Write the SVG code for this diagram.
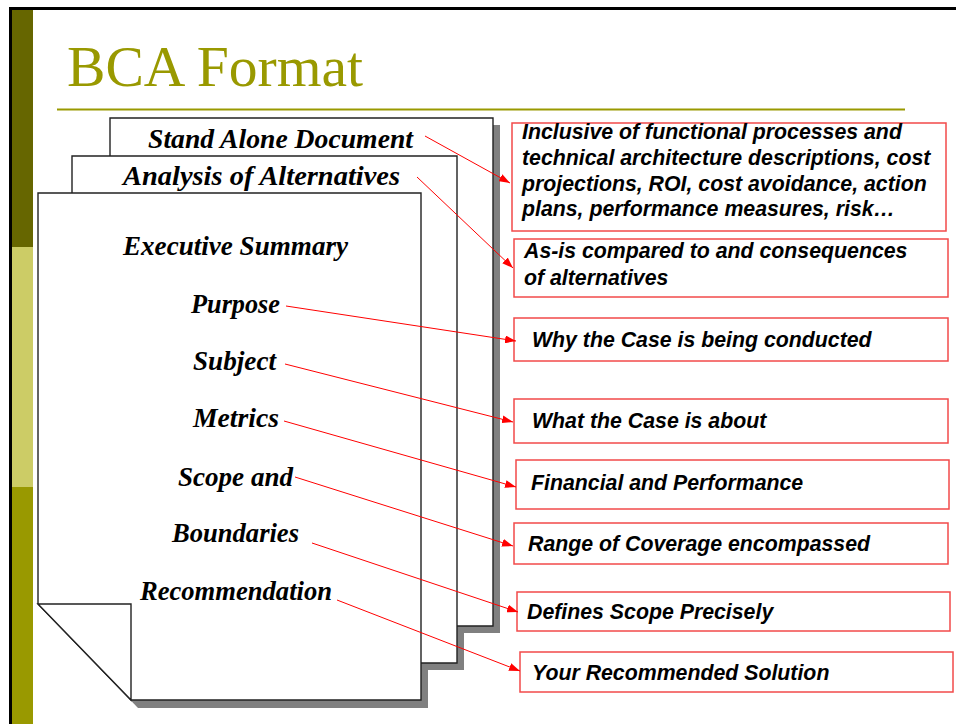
<svg xmlns="http://www.w3.org/2000/svg" width="956" height="724" viewBox="0 0 956 724">
<defs>
<style>
.page{fill:#fff;stroke:#222;stroke-width:1.4}
.shadow{fill:#808080}
.script{font-family:"Liberation Serif","DejaVu Serif",serif;font-style:italic;font-weight:bold;font-size:28px;fill:#000}
.box{fill:#fff;stroke:#f24a4a;stroke-width:1.5}
.lbl{font-family:"Liberation Sans",Arial,sans-serif;font-style:italic;font-weight:bold;font-size:21.3px;fill:#000}
.conn{stroke:#f00;stroke-width:1;fill:none;marker-end:url(#arr)}
</style>
<marker id="arr" markerUnits="userSpaceOnUse" markerWidth="11" markerHeight="8" refX="11" refY="4" orient="auto">
<path d="M0,0 L11,4 L0,8 z" fill="#f00"/>
</marker>
</defs>
<rect width="956" height="724" fill="#fff"/>
<g id="frame">
<rect x="9" y="7" width="947" height="3" fill="#000"/>
<rect x="9" y="7" width="3" height="717" fill="#000"/>
<rect x="12" y="10" width="21" height="237" fill="#666600"/>
<rect x="12" y="247" width="21" height="240" fill="#cccc66"/>
<rect x="12" y="487" width="21" height="237" fill="#999900"/>
</g>
<g id="title">
<text x="67" y="86" font-family="'Liberation Serif',serif" font-size="58" fill="#999900" textLength="296" lengthAdjust="spacingAndGlyphs">BCA Format</text>
<line x1="57" y1="109.5" x2="905" y2="109.5" stroke="#999900" stroke-width="2"/>
</g>
<g id="shadows">
<polygon class="shadow" points="117,125 500,125 500,633 210,633 117,537"/>
<polygon class="shadow" points="79,163 464,163 464,670 172,670 79,574"/>
<polygon class="shadow" points="45,200 428,200 428,708 138,708 45,611"/>
</g>
<g id="page-back">
<polygon class="page" points="110,118 493,118 493,626 203,626 110,530"/>
<text class="script" x="148" y="148" textLength="265" lengthAdjust="spacingAndGlyphs">Stand Alone Document</text>
</g>
<g id="page-middle">
<polygon class="page" points="72,156 457,156 457,663 165,663 72,567"/>
<text class="script" x="123" y="185" textLength="277" lengthAdjust="spacingAndGlyphs">Analysis of Alternatives</text>
</g>
<g id="page-front">
<polygon class="page" points="38,193 421,193 421,700 131,700 38,604"/>
<polygon class="page" points="38,604 131,604 131,700"/>
<text class="script" x="123" y="255" textLength="225" lengthAdjust="spacingAndGlyphs">Executive Summary</text>
<text class="script" x="191" y="313" textLength="89" lengthAdjust="spacingAndGlyphs">Purpose</text>
<text class="script" x="193" y="370" textLength="83" lengthAdjust="spacingAndGlyphs">Subject</text>
<text class="script" x="193" y="427" textLength="86" lengthAdjust="spacingAndGlyphs">Metrics</text>
<text class="script" x="178" y="486" textLength="115" lengthAdjust="spacingAndGlyphs">Scope and</text>
<text class="script" x="172" y="542" textLength="127" lengthAdjust="spacingAndGlyphs">Boundaries</text>
<text class="script" x="140" y="600" textLength="192" lengthAdjust="spacingAndGlyphs">Recommendation</text>
</g>
<g id="box-standalone">
<rect class="box" x="512" y="123" width="434" height="108"/>
<text class="lbl" x="522" y="139">Inclusive of functional processes and</text>
<text class="lbl" x="522" y="165">technical architecture descriptions, cost</text>
<text class="lbl" x="522" y="191">projections, ROI, cost avoidance, action</text>
<text class="lbl" x="522" y="216">plans, performance measures, risk…</text>
</g>
<g id="box-alternatives">
<rect class="box" x="514" y="239" width="434" height="58"/>
<text class="lbl" x="524" y="258">As-is compared to and consequences</text>
<text class="lbl" x="524" y="285">of alternatives</text>
</g>
<g id="box-purpose">
<rect class="box" x="514" y="318" width="434" height="43"/>
<text class="lbl" x="532" y="347">Why the Case is being conducted</text>
</g>
<g id="box-subject">
<rect class="box" x="514" y="399" width="434" height="44"/>
<text class="lbl" x="532" y="428">What the Case is about</text>
</g>
<g id="box-metrics">
<rect class="box" x="516" y="460" width="433" height="49"/>
<text class="lbl" x="531" y="490">Financial and Performance</text>
</g>
<g id="box-scope">
<rect class="box" x="514" y="523" width="434" height="41"/>
<text class="lbl" x="528" y="551">Range of Coverage encompassed</text>
</g>
<g id="box-boundaries">
<rect class="box" x="517" y="592" width="433" height="39"/>
<text class="lbl" x="527" y="619">Defines Scope Precisely</text>
</g>
<g id="box-recommendation">
<rect class="box" x="520" y="652" width="433" height="40"/>
<text class="lbl" x="532" y="680">Your Recommended Solution</text>
</g>
<g id="connectors">
<line class="conn" x1="425" y1="136" x2="510" y2="183"/>
<line class="conn" x1="417" y1="177" x2="513" y2="268"/>
<line class="conn" x1="286" y1="306" x2="516" y2="341"/>
<line class="conn" x1="285" y1="364" x2="513" y2="422"/>
<line class="conn" x1="284" y1="421" x2="516" y2="487"/>
<line class="conn" x1="295" y1="477" x2="513" y2="546"/>
<line class="conn" x1="312" y1="543" x2="518" y2="612"/>
<line class="conn" x1="337" y1="600" x2="520" y2="671"/>
</g>
</svg>
